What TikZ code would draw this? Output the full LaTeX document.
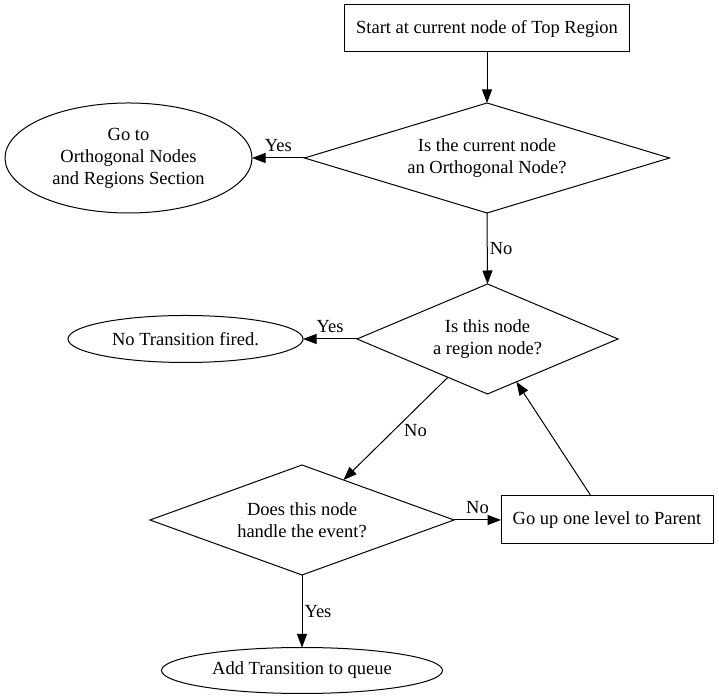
\documentclass[tikz,border=0pt]{standalone}
\usepackage{fontspec}
\setmainfont{Liberation Serif}
\usetikzlibrary{shapes.geometric,arrows.meta}
\begin{document}
\begin{tikzpicture}[x=1pt,y=1pt,
  every node/.style={font=\fontsize{18.5}{22}\selectfont},
  base/.style={draw,line width=1pt,inner sep=0pt,outer sep=0pt,align=center},
  boxnode/.style={base,rectangle},
  decision/.style={base,diamond},
  terminal/.style={base,ellipse},
  conn/.style={line width=1pt,-{Triangle[length=13.5pt,width=10pt]}},
  lbl/.style={inner sep=2pt},
  lblabove/.style={lbl,above,yshift=4pt}
]
\useasboundingbox (0,0) rectangle (719,700);
\node[boxnode,minimum width=285,minimum height=47] (start) at (487,671.5) {Start at current node of Top Region};
\node[decision,aspect=3.32,minimum width=365,minimum height=110] (d1) at (487,542) {Is the current node\\an Orthogonal Node?};
\node[terminal,minimum width=247,minimum height=110] (e1) at (128.5,542) {Go to\\Orthogonal Nodes\\and Regions Section};
\node[decision,aspect=2.37,minimum width=261,minimum height=110] (d2) at (487.5,361) {Is this node\\a region node?};
\node[terminal,minimum width=235,minimum height=47] (e2) at (185.5,361) {No Transition fired.};
\node[decision,aspect=2.76,minimum width=304,minimum height=110] (d3) at (302,180) {Does this node\\handle the event?};
\node[boxnode,minimum width=212,minimum height=48] (parent) at (607,180) {Go up one level to Parent};
\node[terminal,minimum width=281,minimum height=46] (e3) at (302,29.5) {Add Transition to queue};

\draw[conn] (start.south) -- (d1.north);
\draw[conn] (d1.west) -- node[lblabove] {Yes} (e1.east);
\draw[conn] (d1.south) -- node[lbl,right] {No} (d2.north);
\draw[conn] (d2.west) -- node[lblabove] {Yes} (e2.east);
\draw[conn] (d2.224) -- node[lbl,right,xshift=6pt,yshift=-2pt] {No} (d3.44);
\draw[conn] (d3.east) -- node[lblabove] {No} (parent.west);
\draw[conn] ([xshift=-16pt]parent.north) -- (d2.304);
\draw[conn] (d3.south) -- node[lbl,right] {Yes} (e3.north);
\end{tikzpicture}
\end{document}
